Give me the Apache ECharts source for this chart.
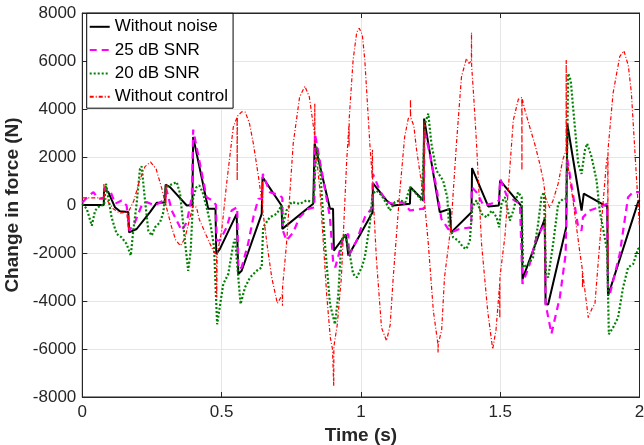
<!DOCTYPE html>
<html>
<head>
<meta charset="utf-8">
<script src="https://cdn.jsdelivr.net/npm/echarts@6/dist/echarts.min.js"></script>
<style>
  html, body { margin: 0; padding: 0; background: #fff; }
  #chart { width: 644px; height: 445px; }
</style>
</head>
<body>
<div id="chart"></div>
<script>
// Force change over time: [time (s), change in force (N)]
const seriesNames = ['Without noise', '25 dB SNR', '20 dB SNR', 'Without control'];
const xTicks = [0, 0.5, 1, 1.5, 2];
const yTicks = [-8000, -6000, -4000, -2000, 0, 2000, 4000, 6000, 8000];

const withoutNoise = [
  [0, 0], [0.077, 0], [0.078, 635], [0.093, 550], [0.117, -90], [0.135, -260], [0.165, -290],
  [0.168, -1140], [0.195, -1000], [0.243, -300], [0.267, 90], [0.296, 100], [0.299, 845],
  [0.315, 745], [0.375, -20], [0.395, 0], [0.398, 2830], [0.452, -160], [0.478, -160],
  [0.481, -2040], [0.494, -1830], [0.554, -370], [0.557, -370], [0.56, -2875], [0.572, -2740],
  [0.644, -370], [0.647, 1160], [0.715, -20], [0.718, -995], [0.829, 50], [0.834, 2560],
  [0.889, -160], [0.9, -160], [0.903, -1900], [0.946, -1230], [0.955, -2110], [1.042, -300],
  [1.043, 910], [1.092, 190], [1.116, -20], [1.176, 50], [1.178, 745], [1.224, 190],
  [1.227, 3600], [1.283, -300], [1.319, -160], [1.324, -1140], [1.397, -300], [1.399, 1540],
  [1.457, -60], [1.495, -20], [1.5, 1020], [1.577, -60], [1.58, -3085], [1.66, -580],
  [1.663, -4130], [1.672, -4150], [1.737, -930], [1.741, 3365], [1.792, -230], [1.8, 470],
  [1.875, -20], [1.884, -20], [1.887, -3780], [1.893, -3800], [1.995, 120], [2.0, 200]
];

const snr25 = [
  [0, 100], [0.02, 350], [0.04, 535], [0.055, 300], [0.064, 260], [0.077, 260], [0.079, 700],
  [0.1, 600], [0.118, 50], [0.141, 190], [0.159, -20], [0.166, -20], [0.169, -1065],
  [0.189, -720], [0.213, -20], [0.231, 120], [0.261, -20], [0.291, 190], [0.299, 190],
  [0.3, 745], [0.321, -230], [0.339, -650], [0.357, -1065], [0.375, -720], [0.393, 325],
  [0.398, 3140], [0.446, 325], [0.467, 190], [0.48, 0], [0.482, -1480], [0.494, -1480],
  [0.518, -930], [0.536, -230], [0.556, -90], [0.56, -2670], [0.572, -2600], [0.595, -1620],
  [0.614, -510], [0.632, 260], [0.645, 260], [0.648, 1300], [0.673, 535], [0.709, 400],
  [0.718, 300], [0.72, -1065], [0.733, -1480], [0.757, -1140], [0.78, -510], [0.811, -160],
  [0.833, -100], [0.835, 2980], [0.859, 1440], [0.889, -510], [0.9, -2320], [0.908, -2600],
  [0.937, -1346], [0.955, -1200], [0.957, -2110], [0.985, -1480], [1.014, -510], [1.041, -100],
  [1.043, 1300], [1.068, 600], [1.092, 120], [1.116, 50], [1.15, 120], [1.176, -230],
  [1.218, -160], [1.226, -160], [1.228, 3110], [1.247, 2140], [1.271, 745], [1.289, -580],
  [1.313, -995], [1.325, -1140], [1.355, -995], [1.396, -930], [1.398, 745], [1.415, 535],
  [1.44, -20], [1.475, 75], [1.496, 190], [1.5, 1090], [1.523, 400], [1.571, 50], [1.578, 50],
  [1.58, -3290], [1.606, -2460], [1.63, -1346], [1.66, -790], [1.663, -4130], [1.684, -5360],
  [1.714, -3850], [1.735, -2040], [1.74, 1990], [1.78, -930], [1.792, -1065], [1.797, -510],
  [1.821, -230], [1.857, -90], [1.884, 50], [1.887, -3575], [1.895, -3650], [1.929, -2040],
  [1.959, 325], [1.977, 535], [2.0, 535]
];

const snr20 = [
  [0, 50], [0.016, -160], [0.034, -860], [0.046, -230], [0.064, -20], [0.078, 0], [0.085, 890],
  [0.093, 325], [0.105, -510], [0.123, -1200], [0.141, -1346], [0.159, -1620], [0.174, -2110],
  [0.183, -1065], [0.195, 50], [0.207, 1510], [0.213, 1610], [0.225, 190], [0.237, -1065],
  [0.249, -1275], [0.261, -930], [0.279, -720], [0.291, -300], [0.3, 745], [0.327, 890],
  [0.339, 955], [0.351, 470], [0.362, -790], [0.372, -1900], [0.38, -2740], [0.389, -1900],
  [0.398, 325], [0.41, 745], [0.42, 815], [0.432, 535], [0.446, -90], [0.46, -790],
  [0.473, -1760], [0.48, -3850], [0.484, -4970], [0.494, -4200], [0.506, -3290], [0.524, -2875],
  [0.542, -1620], [0.548, -1410], [0.56, -3020], [0.568, -4130], [0.584, -3435], [0.602, -3020],
  [0.626, -2740], [0.644, -2600], [0.649, -930], [0.673, -510], [0.698, -370], [0.715, -20],
  [0.721, -790], [0.733, -230], [0.751, 120], [0.781, 50], [0.805, 190], [0.829, 120],
  [0.841, 2420], [0.853, 1580], [0.871, -1620], [0.889, -4130], [0.907, -4970], [0.919, -3710],
  [0.93, -1480], [0.942, -1200], [0.958, -1900], [0.972, -2875], [0.985, -3020], [1.003, -2600],
  [1.014, -2180], [1.032, -790], [1.042, 470], [1.056, 600], [1.074, 400], [1.092, 50],
  [1.104, -230], [1.122, 120], [1.139, 190], [1.16, 120], [1.176, 745], [1.194, 535],
  [1.218, 190], [1.23, 3390], [1.242, 3810], [1.253, 2560], [1.271, 1440], [1.295, 1020],
  [1.31, 325], [1.316, -790], [1.331, -1346], [1.349, -1480], [1.367, -1760], [1.379, -1830],
  [1.391, -1480], [1.4, -90], [1.415, 190], [1.433, -370], [1.451, -510], [1.47, -230],
  [1.487, -510], [1.496, -930], [1.505, 100], [1.517, 325], [1.535, -650], [1.547, -230],
  [1.564, 535], [1.577, 325], [1.582, -2600], [1.6, -2460], [1.618, -2180], [1.636, -790],
  [1.648, 325], [1.657, 535], [1.664, -2875], [1.672, -3020], [1.69, -1620], [1.708, 50],
  [1.726, 260], [1.738, 260], [1.744, 5480], [1.753, 5200], [1.768, 3250], [1.78, 1720],
  [1.792, 1300], [1.804, 2280], [1.812, 2560], [1.828, 2000], [1.846, 1020], [1.857, -230],
  [1.875, -1346], [1.884, -1900], [1.89, -5380], [1.905, -5110], [1.923, -4690], [1.941, -3435],
  [1.959, -2600], [1.977, -2460], [1.995, -1830], [2.0, -1800]
];

const withoutControl = [
  [0, 300], [0.077, 300], [0.0775, 890], [0.079, 350], [0.095, 100], [0.111, -160], [0.135, -340],
  [0.16, -290], [0.165, -250], [0.1655, -1060], [0.167, -250], [0.185, 180], [0.205, 1000],
  [0.225, 1600], [0.245, 1790], [0.265, 1500], [0.285, 700], [0.2995, 0], [0.3, 850],
  [0.3005, -30], [0.32, -900], [0.335, -1450], [0.352, -1700], [0.368, -1400], [0.385, -600],
  [0.398, 0], [0.41, -100], [0.42, -600], [0.45, -1400], [0.47, -1900], [0.482, -2110],
  [0.4825, -3850], [0.484, -2050], [0.5, -1100], [0.518, 890], [0.542, 3250], [0.5555, 3650],
  [0.556, 1020], [0.5565, 3700], [0.572, 3880], [0.585, 3870], [0.6, 3400], [0.614, 2560],
  [0.632, 1200], [0.6465, 0], [0.647, 1000], [0.6475, -200], [0.665, -1800], [0.68, -3020],
  [0.7, -4100], [0.71, -3900], [0.718, -3700], [0.7185, -4200], [0.719, -3400], [0.733, -1620],
  [0.757, 2560], [0.78, 4500], [0.799, 4950], [0.815, 4500], [0.834, 2900], [0.8345, 4230],
  [0.835, 2300], [0.84, 2100], [0.853, 606], [0.877, -3710], [0.89, -5500], [0.898, -6010],
  [0.902, -6000], [0.9025, -7545], [0.903, -5900], [0.915, -5000], [0.93, -3020], [0.949, 1860],
  [0.957, 3300], [0.9575, 2420], [0.958, 3600], [0.972, 6040], [0.985, 7200], [0.994, 7365],
  [1.005, 7100], [1.014, 6040], [1.032, 2560], [1.041, 1100], [1.0415, 2300], [1.042, 800],
  [1.056, -2320], [1.074, -5110], [1.092, -5660], [1.105, -5000], [1.116, -3020], [1.139, 470],
  [1.157, 2830], [1.17, 3600], [1.1775, 3700], [1.178, 4400], [1.1785, 3650], [1.19, 3300],
  [1.2, 2280], [1.218, 890], [1.226, 400], [1.2265, 3500], [1.227, 300], [1.242, -1620],
  [1.26, -4410], [1.2765, -5800], [1.277, -6150], [1.2775, -5800], [1.29, -5200], [1.3, -3020],
  [1.324, -800], [1.3245, -1200], [1.325, -600], [1.343, 2560], [1.361, 5340], [1.379, 6110],
  [1.388, 5900], [1.3965, 6000], [1.397, 7180], [1.3975, 5800], [1.405, 4500], [1.415, 2570],
  [1.433, -1610], [1.455, -4410], [1.473, -6010], [1.485, -5200], [1.498, -3300],
  [1.4985, -4700], [1.499, -3000], [1.517, -1300], [1.53, 800], [1.547, 3530], [1.565, 4400],
  [1.5775, 4480], [1.578, 1440], [1.5785, 4450], [1.59, 3900], [1.606, 3250], [1.625, 2500],
  [1.642, 1720], [1.655, 1000], [1.662, 400], [1.6625, -3435], [1.663, 300], [1.678, -120],
  [1.69, 200], [1.708, 890], [1.725, 1900], [1.7365, 2280], [1.737, 6040], [1.7375, 2200],
  [1.745, 1500], [1.76, 300], [1.785, -1900], [1.795, -2700], [1.7955, -3435], [1.796, -2800],
  [1.816, -4690], [1.83, -4300], [1.84, -4130], [1.857, -1620], [1.882, 1860], [1.886, 2000],
  [1.8865, -2600], [1.887, 2300], [1.905, 4650], [1.929, 6180], [1.944, 6430], [1.96, 5800],
  [1.971, 4650], [1.989, 1160], [2.0, -900]
];

const FONT = '"Liberation Sans", Arial, sans-serif';
const AXIS_COLOR = '#262626';
const GRID_COLOR = '#e6e6e6';

const chart = echarts.init(document.getElementById('chart'), null, { renderer: 'canvas' });

// Unlabelled axes on the top and right edges carry the inward ticks of the box
function frameAxis(extra) {
  return Object.assign({
    type: 'value',
    axisLine: { show: true, onZero: false, lineStyle: { color: AXIS_COLOR, width: 1 } },
    axisTick: { show: true, inside: true, length: 5, lineStyle: { color: AXIS_COLOR } },
    axisLabel: { show: false },
    splitLine: { show: false }
  }, extra);
}

const option = {
  animation: false,
  backgroundColor: '#ffffff',
  grid: {
    left: 82.3, right: 4.5, top: 13, bottom: 48, containLabel: false,
    outerBoundsMode: 'none',
    show: true, borderColor: AXIS_COLOR, borderWidth: 1, backgroundColor: 'transparent'
  },
  legend: {
    orient: 'vertical',
    left: 86.7,
    top: 13.3,
    padding: [5, 5, 3, 2],
    itemGap: 6.3,
    itemWidth: 20,
    itemHeight: 14,
    backgroundColor: '#ffffff',
    borderColor: '#000000',
    borderWidth: 1,
    borderRadius: 0,
    data: seriesNames,
    itemStyle: { opacity: 0 },
    textStyle: { fontFamily: FONT, fontSize: 17, color: '#000', lineHeight: 17 }
  },
  xAxis: [
    {
      type: 'value', min: xTicks[0], max: xTicks[xTicks.length - 1], interval: 0.5,
      name: 'Time (s)', nameLocation: 'middle', nameGap: 26,
      nameTextStyle: { fontFamily: FONT, fontSize: 19, fontWeight: 'bold', color: AXIS_COLOR },
      axisLine: { show: true, onZero: false, lineStyle: { color: AXIS_COLOR, width: 1 } },
      axisTick: { show: true, inside: true, length: 5, lineStyle: { color: AXIS_COLOR } },
      axisLabel: { fontFamily: FONT, fontSize: 17, color: AXIS_COLOR, margin: 7,
        formatter: v => String(v) },
      splitLine: { show: true, lineStyle: { color: GRID_COLOR, width: 1 } }
    },
    frameAxis({ position: 'top', min: xTicks[0], max: xTicks[xTicks.length - 1], interval: 0.5 })
  ],
  yAxis: [
    {
      type: 'value', min: yTicks[0], max: yTicks[yTicks.length - 1], interval: 2000,
      name: 'Change in force (N)', nameLocation: 'middle', nameGap: 46,
      nameTextStyle: { fontFamily: FONT, fontSize: 19, fontWeight: 'bold', color: AXIS_COLOR },
      axisLine: { show: true, onZero: false, lineStyle: { color: AXIS_COLOR, width: 1 } },
      axisTick: { show: true, inside: true, length: 5, lineStyle: { color: AXIS_COLOR } },
      axisLabel: { fontFamily: FONT, fontSize: 17, color: AXIS_COLOR, margin: 6,
        formatter: v => String(v) },
      splitLine: { show: true, lineStyle: { color: GRID_COLOR, width: 1 } }
    },
    frameAxis({ position: 'right', min: yTicks[0], max: yTicks[yTicks.length - 1], interval: 2000 })
  ],
  series: [
    {
      name: seriesNames[0], type: 'line', data: withoutNoise, showSymbol: false, symbol: 'none',
      lineStyle: { color: '#000000', width: 2 }, itemStyle: { color: '#000000' }
    },
    {
      name: seriesNames[1], type: 'line', data: snr25, showSymbol: false, symbol: 'none',
      lineStyle: { color: '#ff00ff', width: 2.2, type: [7, 5] }, itemStyle: { color: '#ff00ff' }
    },
    {
      name: seriesNames[2], type: 'line', data: snr20, showSymbol: false, symbol: 'none',
      lineStyle: { color: '#008000', width: 2.2, type: [2, 2] }, itemStyle: { color: '#008000' }
    },
    {
      name: seriesNames[3], type: 'line', data: withoutControl, showSymbol: false, symbol: 'none',
      lineStyle: { color: '#ff0000', width: 1.2, type: [4, 2, 1, 2] }, itemStyle: { color: '#ff0000' }
    }
  ]
};

chart.setOption(option);
</script>
</body>
</html>
